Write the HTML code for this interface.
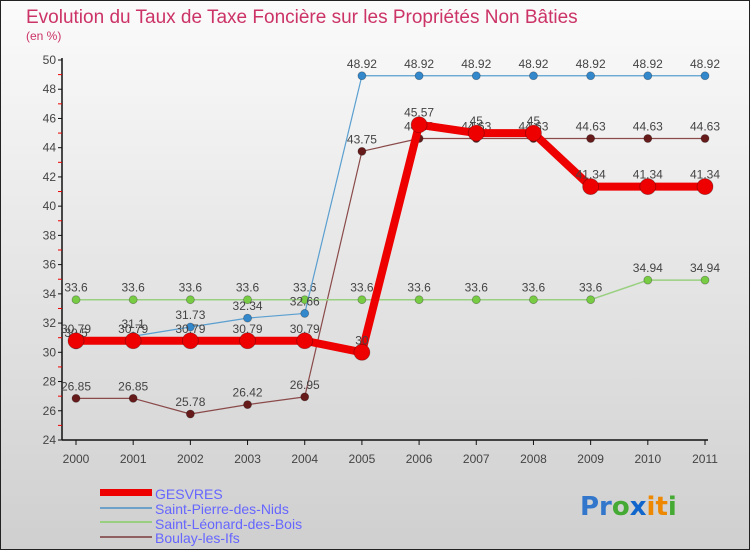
<!DOCTYPE html>
<html><head><meta charset="utf-8"><style>
body{margin:0;width:750px;height:550px;overflow:hidden;font-family:"Liberation Sans",sans-serif}
</style></head><body>
<svg id="c" width="750" height="550" xmlns="http://www.w3.org/2000/svg">
<defs><linearGradient id="bg" x1="0" y1="0" x2="0" y2="1"><stop offset="0" stop-color="#fbfbfb"/><stop offset="1" stop-color="#cfcfcf"/></linearGradient></defs>
<rect x="0.5" y="0.5" width="749" height="549" fill="url(#bg)" stroke="#222"/>
<text x="26" y="23" font-size="19" fill="#cc3366">Evolution du Taux de Taxe Foncière sur les Propriétés Non Bâties</text>
<text x="26" y="40" font-size="12" fill="#cc3366">(en %)</text>
<g id="axes"></g><g id="series"></g>
<g>
<rect x="100" y="489" width="52" height="7" fill="#e00"/>
<text x="155" y="499" font-size="14" fill="#6666ff">GESVRES</text>
<line x1="100" y1="508" x2="152" y2="508" stroke="#6fa0c8" stroke-width="2"/>
<text x="155" y="514" font-size="14" fill="#6666ff">Saint-Pierre-des-Nids</text>
<line x1="100" y1="522" x2="152" y2="522" stroke="#99d080" stroke-width="2"/>
<text x="155" y="529" font-size="14" fill="#6666ff">Saint-Léonard-des-Bois</text>
<line x1="100" y1="537" x2="152" y2="537" stroke="#906060" stroke-width="2"/>
<text x="155" y="543" font-size="14" fill="#6666ff">Boulay-les-Ifs</text>
</g>
<text x="580" y="515" font-size="26" font-family="DejaVu Sans" font-weight="bold"><tspan fill="#3377cc">Pr</tspan><tspan fill="#44aa33">o</tspan><tspan fill="#1166cc">x</tspan><tspan fill="#ee8800">it</tspan><tspan fill="#44aa33">i</tspan></text>
</svg>
<script>
const years=["2000","2001","2002","2003","2004","2005","2006","2007","2008","2009","2010","2011"];
const yTicks=[24,26,28,30,32,34,36,38,40,42,44,46,48,50];
const gesvres=[30.79,30.79,30.79,30.79,30.79,30,45.57,45,45,41.34,41.34,41.34];
const saintPierre=[30.5,31.1,31.73,32.34,32.66,48.92,48.92,48.92,48.92,48.92,48.92,48.92];
const saintLeonard=[33.6,33.6,33.6,33.6,33.6,33.6,33.6,33.6,33.6,33.6,34.94,34.94];
const boulay=[26.85,26.85,25.78,26.42,26.95,43.75,44.63,44.63,44.63,44.63,44.63,44.63];
const NS="http://www.w3.org/2000/svg";
const X=i=>76+i*(629/11);
const Y=v=>440-(v-24)*(380/26);
function mk(p,t,a){const e=document.createElementNS(NS,t);for(const k in a)e.setAttribute(k,a[k]);p.appendChild(e);return e;}
const ax=document.getElementById('axes');
const ya=mk(ax,'line',{x1:62,y1:58,x2:62,y2:440,stroke:'#111','stroke-width':1.5});


const xa=mk(ax,'line',{x1:62,y1:440,x2:708,y2:440,stroke:'#111','stroke-width':1.5});


yTicks.forEach(v=>{
  mk(ax,'line',{x1:58,y1:Y(v),x2:62,y2:Y(v),stroke:'#111'});
  if(v<50)mk(ax,'line',{x1:58,y1:Y(v+1),x2:62,y2:Y(v+1),stroke:'#e00'});
  const t=mk(ax,'text',{x:56,y:Y(v)+4,'font-size':12,fill:'#444','text-anchor':'end'});
  t.textContent=v;
  
  
});
years.forEach((y,i)=>{
  mk(ax,'line',{x1:X(i),y1:440,x2:X(i),y2:445,stroke:'#111'});
  const t=mk(ax,'text',{x:X(i),y:463,'font-size':12,fill:'#444','text-anchor':'middle'});
  t.textContent=y;
  
  
});
const sg=document.getElementById('series');
function series(name,vals,color,w,r,dot){
  const g=mk(sg,'g',{});
  
  
  const l=mk(g,'polyline',{points:vals.map((v,i)=>X(i)+','+Y(v)).join(' '),fill:'none',stroke:color,'stroke-width':w,'stroke-linejoin':'round'});
  
  
  vals.forEach((v,i)=>{
    const c=mk(g,'circle',{cx:X(i),cy:Y(v),r:r,fill:dot,stroke:'rgba(0,0,0,0.3)','stroke-width':0.8});
    
    
    const t=mk(g,'text',{x:X(i),y:Y(v)-8,'font-size':12,fill:'#444','text-anchor':'middle'});
    t.textContent=String(v).replace('.','.');
    
    
  });
}
series('boulay',boulay,'#8a4a4a',1.2,4,'#661a1a');
series('saint-leonard',saintLeonard,'#99d080',1.5,4,'#77cc44');
series('saint-pierre',saintPierre,'#5a9fd0',1.2,4,'#3388cc');
series('gesvres',gesvres,'#ee0000',8,8,'#ee0000');
</script>
</body></html>
